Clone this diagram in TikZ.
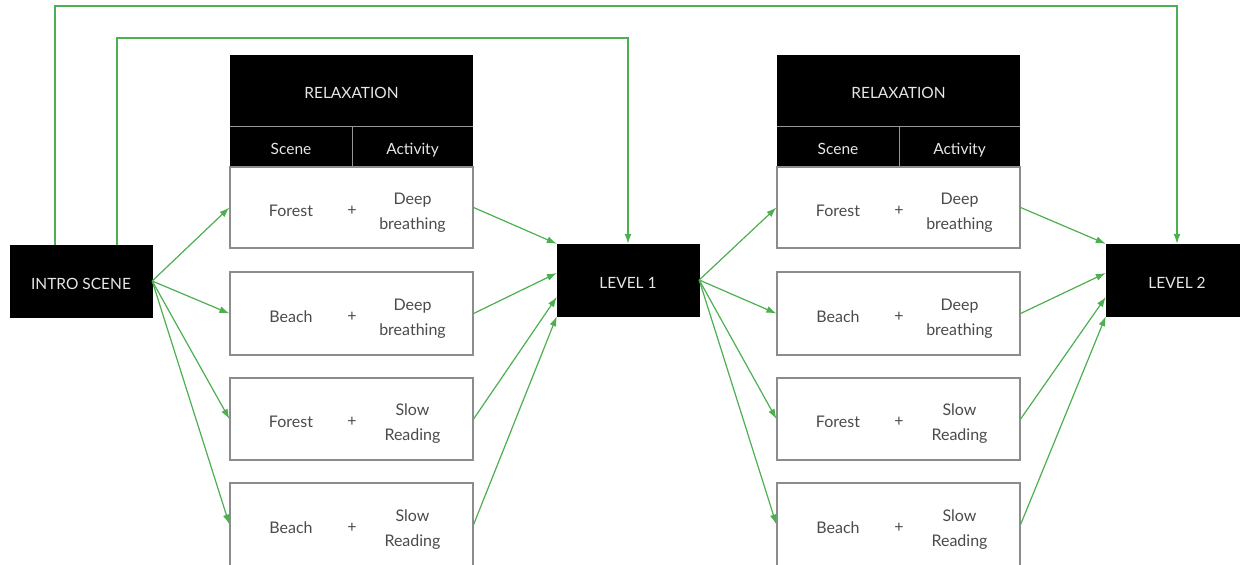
\documentclass[tikz,border=0pt]{standalone}
\usepackage{fontspec}
\setmainfont{Lato}
\usetikzlibrary{arrows.meta,calc}
\definecolor{lgreen}{RGB}{76,175,80}
\definecolor{rowborder}{RGB}{140,140,140}
\definecolor{rowtext}{RGB}{75,75,75}
\definecolor{hdrtext}{RGB}{230,230,230}
\definecolor{hdrline}{RGB}{150,150,150}
\begin{document}
\begin{tikzpicture}[x=1pt,y=-1pt,
  conn/.style={draw=lgreen, line width=1.2pt, -{Latex[length=10pt,width=7pt]}},
  blk/.style={fill=black, draw=black, minimum width=142pt, minimum height=72pt, inner sep=0pt, text=hdrtext, font=\fontsize{15.5}{18}\selectfont, text height=17pt, text depth=1pt},
  hcell/.style={fill=black, inner sep=0pt, text=hdrtext, font=\fontsize{15.5}{18}\selectfont, text height=17pt, text depth=1pt},
  sepline/.style={draw=hdrline, line width=1.4pt},
  rowbox/.style={draw=rowborder, line width=1.2pt, fill=white, inner sep=0pt, minimum width=243pt},
  rowtxt/.style={text=rowtext, font=\fontsize{16}{25}\selectfont, align=center, inner sep=0pt}
]
\useasboundingbox (0,0) rectangle (1240,565);
\clip (0,0) rectangle (1240,565);

% main blocks
\node[blk] (intro) at (81,281) {INTRO SCENE};
\node[blk] (lvl1) at (628,280) {LEVEL 1};
\node[blk] (lvl2) at (1177,280) {LEVEL 2};

% tables
\foreach \tn/\tx in {1/230,2/777} {
  \node[hcell, minimum width=243pt, minimum height=71pt] (t\tn h) at (\tx+121.5,90.5) {RELAXATION};
  \node[hcell, minimum width=122pt, minimum height=40pt] (t\tn s) at (\tx+61,146) {Scene};
  \node[hcell, minimum width=121pt, minimum height=40pt] (t\tn a) at (\tx+182.5,146) {Activity};
  \draw[sepline] (t\tn h.south west) -- (t\tn h.south east);
  \draw[sepline] (t\tn s.north east) -- (t\tn s.south east);
  \foreach \i/\yc/\h/\s/\aa/\ab in {1/207.5/81/Forest/Deep/breathing,
                                    2/313.5/83/Beach/Deep/breathing,
                                    3/419/82/Forest/Slow/Reading,
                                    4/524.5/83/Beach/Slow/Reading} {
    \node[rowbox, minimum height=\h pt] (t\tn r\i) at (\tx+121.5,\yc) {};
    \node[rowtxt] (t\tn r\i s) at (\tx+61,\yc+3) {\s};
    \node[rowtxt] (t\tn r\i p) at (\tx+122,\yc+3) {+};
    \node[rowtxt] (t\tn r\i a) at (\tx+182.5,\yc+5) {\aa\\\ab};
  }
}

% entry points on level blocks
\coordinate (l1in1) at (lvl1.north west);
\coordinate (l1in2) at ([yshift=7pt]lvl1.west);
\coordinate (l1in3) at ([yshift=-17pt]lvl1.west);
\coordinate (l1in4) at (lvl1.south west);
\coordinate (l2in1) at (lvl2.north west);
\coordinate (l2in2) at ([yshift=7pt]lvl2.west);
\coordinate (l2in3) at ([yshift=-17pt]lvl2.west);
\coordinate (l2in4) at (lvl2.south west);

\foreach \i in {1,2,3,4} {
  \draw[conn] (intro.east) -- (t1r\i.west);
  \draw[conn] (t1r\i.east) -- (l1in\i);
  \draw[conn] (lvl1.east) -- (t2r\i.west);
  \draw[conn] (t2r\i.east) -- (l2in\i);
}

% top bypass connectors
\coordinate (topA) at (1177,6);
\coordinate (topB) at (628,38);
\draw[conn] ([xshift=-26pt]intro.north) |- (topA) -- (lvl2.north);
\draw[conn] ([xshift=36pt]intro.north) |- (topB) -- (lvl1.north);
\end{tikzpicture}
\end{document}
